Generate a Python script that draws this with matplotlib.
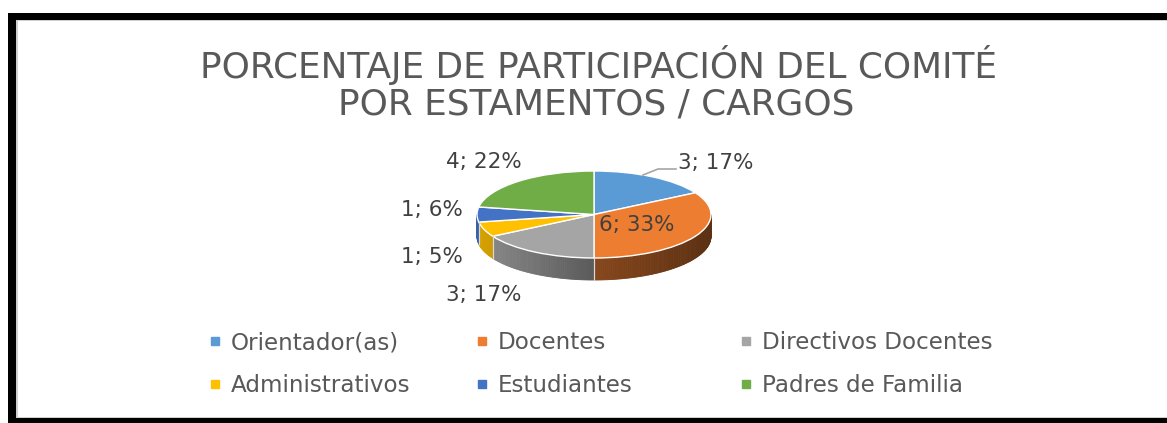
import matplotlib
matplotlib.use("Agg")
import matplotlib.pyplot as plt
import numpy as np
from matplotlib.patches import Rectangle
from matplotlib.lines import Line2D
from matplotlib.colors import to_rgb

# datos del gráfico
categorias = ["Orientador(as)", "Docentes", "Directivos Docentes",
              "Administrativos", "Estudiantes", "Padres de Familia"]
valores = [3, 6, 3, 1, 1, 4]
porcentajes = [17, 33, 17, 5, 6, 22]
colores = ["#5b9bd5", "#ed7d31", "#a5a5a5", "#ffc000", "#4472c4", "#70ad47"]
titulo = ["PORCENTAJE DE PARTICIPACIÓN DEL COMITÉ", "POR ESTAMENTOS / CARGOS"]

W, H = 1167, 423
# centros de las etiquetas (pixeles)
pos_etiquetas = [(716, 163), (637, 225), (484, 295), (432, 257), (432, 210), (484, 162)]
gris_texto = "#595959"


def fx(px):
    return px / W


def fy(py):
    return 1 - py / H


fig = plt.figure(figsize=(W / 100, H / 100), dpi=100)
fig.patch.set_facecolor("white")

# marco negro
for x0, y0, x1, y1, c in [(8, 13, 16, 423, "black"), (8, 13, W, 20, "black"),
                          (8, 418, W, 423, "black"), (16, 20, 17.5, 418, "#cfcfcf"),
                          (16, 20, W, 21.5, "#cfcfcf"), (16, 416.5, W, 418, "#cfcfcf")]:
    fig.add_artist(Rectangle((fx(x0), fy(y1)), (x1 - x0) / W, (y1 - y0) / H,
                             transform=fig.transFigure, facecolor=c, edgecolor="none"))

# titulo
fig.text(fx(598), fy(78), titulo[0], ha="center", va="baseline", fontsize=25.8, color=gris_texto)
fig.text(fx(596), fy(114), titulo[1], ha="center", va="baseline", fontsize=25.8, color=gris_texto)

# pastel 3D (elipse + pared lateral)
cx0, cx1 = 477, 711
cy_top, cy_bot = 171, 280
prof = 22 / 43.5
ax = fig.add_axes([fx(cx0), fy(cy_bot), (cx1 - cx0) / W, (cy_bot - cy_top) / H])

total = sum(valores)
frac = np.cumsum([0] + valores) / total
for i, v in enumerate(valores):
    a_hi = 90 - 360 * frac[i]
    a_lo = 90 - 360 * frac[i + 1]
    lo = max(a_lo, -180)
    hi = min(a_hi, 0)
    if lo >= hi:
        continue
    n = int(hi - lo) + 2
    ts = np.radians(np.linspace(lo, hi, n))
    base = np.array(to_rgb(colores[i]))
    for t1, t2 in zip(ts[:-1], ts[1:]):
        xm = (np.cos(t1) + np.cos(t2)) / 2
        f = 0.55 - 0.3 * xm if xm < 0 else 0.57 - 0.18 * xm
        c = np.clip(base * f, 0, 1)
        ax.fill([np.cos(t1), np.cos(t2), np.cos(t2), np.cos(t1)],
                [np.sin(t1), np.sin(t2), np.sin(t2) - prof, np.sin(t1) - prof],
                color=c, lw=0.6, edgecolor=c, clip_on=False)
    for a in (a_lo, a_hi):
        if -180 < a < 0:
            t = np.radians(a)
            ax.plot([np.cos(t), np.cos(t)], [np.sin(t), np.sin(t) - prof],
                    color="#d9d9d9", lw=0.8, clip_on=False)

wedges, _ = ax.pie(valores, colors=colores, startangle=90, counterclock=False,
                   wedgeprops=dict(edgecolor="white", linewidth=1.0))
for w in wedges:
    w.set_clip_on(False)
ax.set_aspect("auto")
ax.set_xlim(-1, 1)
ax.set_ylim(-1 - prof, 1)
ax.axis("off")

# etiquetas de datos
for (px, py), v, p in zip(pos_etiquetas, valores, porcentajes):
    fig.text(fx(px), fy(py), f"{v}; {p}%", ha="center", va="center",
             fontsize=15.5, color="#404040")
fig.add_artist(Line2D([fx(643), fx(658), fx(676)], [fy(175), fy(169), fy(169)],
                      transform=fig.transFigure, color="#a6a6a6", lw=1.2))

# leyenda en tres columnas
col_x = [208, 475, 739]
for j, x in enumerate(col_x):
    idx = [j, j + 3]
    handles = [Line2D([], [], marker="s", ls="none", color=colores[k], markersize=6) for k in idx]
    fig.legend(handles, [categorias[k] for k in idx], loc="center left",
               bbox_to_anchor=(fx(x), fy(364)), frameon=False, fontsize=16.6,
               handlelength=0.6, handletextpad=0.4, borderpad=0, borderaxespad=0,
               labelspacing=0.85, labelcolor=gris_texto)

fig.savefig("out.png", dpi=100)
